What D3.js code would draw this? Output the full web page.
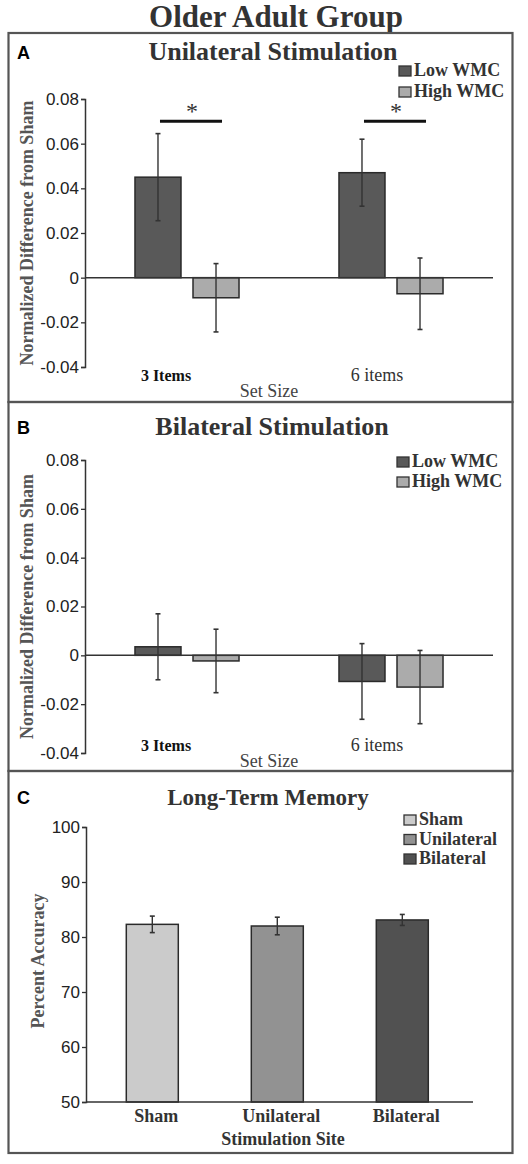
<!DOCTYPE html>
<html><head><meta charset="utf-8">
<script src="https://cdn.jsdelivr.net/npm/d3@7"></script>
<style>html,body{margin:0;padding:0;background:#fff;}svg{display:block;}</style>
</head><body>
<script>
// ---- data ----
const setSizes = ["3 Items", "6 items"];
const wmcGroups = ["Low WMC", "High WMC"];
const uniLow = [0.045, 0.047];
const uniLowErr = [0.0195, 0.015];
const uniHigh = [-0.009, -0.0072];
const uniHighErr = [0.0153, 0.016];
const bilLow = [0.0035, -0.0107];
const bilLowErr = [0.0135, 0.0155];
const bilHigh = [-0.0023, -0.013];
const bilHighErr = [0.013, 0.015];
const sites = ["Sham", "Unilateral", "Bilateral"];
const ltmAccuracy = [82.3, 82.0, 83.1];
const ltmErr = [1.5, 1.6, 1.0];
const diffTicks = [-0.04, -0.02, 0, 0.02, 0.04, 0.06, 0.08];
const diffTickLabels = ["-0.04", "-0.02", "0", "0.02", "0.04", "0.06", "0.08"];
const accTicks = [50, 60, 70, 80, 90, 100];
const sigMarks = ["*", "*"];

const W = 528, H = 1164;
const serif = "'Liberation Serif','Times New Roman',serif";
const sans = "'Liberation Sans',Arial,sans-serif";
const wmcColors = ["#595959", "#ababab"];
const siteColors = ["#cbcbcb", "#929292", "#515151"];

const svg = d3.select("body").append("svg").attr("width", W).attr("height", H);

svg.append("text").attr("x", 276).attr("y", 27).attr("text-anchor", "middle")
  .style("font-family", serif).style("font-weight", "bold").style("font-size", "31px")
  .attr("fill", "#333").text("Older Adult Group");

function panelFrame(y0, y1, letter, title, titleY, titleSize, titleX) {
  svg.append("rect").attr("x", 8.5).attr("y", y0).attr("width", 504).attr("height", y1 - y0)
    .attr("fill", "none").attr("stroke", "#555").attr("stroke-width", 2.2);
  svg.append("text").attr("x", 17).attr("y", titleY - 1).style("font-family", sans)
    .style("font-weight", "bold").style("font-size", "18px").attr("fill", "#000").text(letter);
  svg.append("text").attr("x", titleX).attr("y", titleY).attr("text-anchor", "middle")
    .style("font-family", serif).style("font-weight", "bold").style("font-size", titleSize + "px")
    .attr("fill", "#333").text(title);
}

function legend(items, colors, x, y0, dy, size) {
  items.forEach((t, i) => {
    svg.append("rect").attr("x", x).attr("y", y0 + i * dy - 10).attr("width", 12).attr("height", 10)
      .attr("fill", colors[i]).attr("stroke", "#333").attr("stroke-width", 1.3);
    svg.append("text").attr("x", x + 15).attr("y", y0 + i * dy)
      .style("font-family", serif).style("font-weight", "bold").style("font-size", size + "px")
      .attr("fill", "#333").text(t);
  });
}

function yLabel(text, cx, cy) {
  svg.append("text").attr("transform", `translate(${cx},${cy}) rotate(-90)`)
    .attr("text-anchor", "middle").style("font-family", serif).style("font-weight", "bold")
    .style("font-size", "18px").attr("fill", "#555").text(text);
}

function yAxis(scale, ticks, fmt, xPos, fontSize) {
  const g = svg.append("g").attr("transform", `translate(${xPos},0)`)
    .call(d3.axisLeft(scale).tickValues(ticks).tickFormat(fmt).tickSize(4).tickPadding(2));
  g.select(".domain").attr("stroke", "#333").attr("stroke-width", 1.5);
  g.selectAll(".tick line").attr("stroke", "#333").attr("stroke-width", 1.3);
  g.selectAll(".tick text").style("font-family", sans).style("font-size", fontSize + "px").attr("fill", "#222");
  return g;
}

function errBar(g, x, yTop, yBot) {
  g.append("line").attr("x1", x).attr("x2", x).attr("y1", yTop).attr("y2", yBot)
    .attr("stroke", "#333").attr("stroke-width", 1.4);
  [yTop, yBot].forEach(yy => g.append("line").attr("x1", x - 2.5).attr("x2", x + 2.5)
    .attr("y1", yy).attr("y2", yy).attr("stroke", "#333").attr("stroke-width", 1.6));
}

function groupedPanel(opt) {
  const y = d3.scaleLinear().domain([-0.04, 0.08]).range([opt.yBottom, opt.yTop]);
  const x0 = d3.scaleBand().domain(setSizes).range([85, 493]).paddingInner(0.49).paddingOuter(0.245);
  const x1 = d3.scaleBand().domain(wmcGroups).range([0, x0.bandwidth()]).paddingInner(0.207);
  const series = [opt.low, opt.high];
  const errs = [opt.lowErr, opt.highErr];
  const g = svg.append("g");
  setSizes.forEach((c, ci) => {
    wmcGroups.forEach((s, si) => {
      const v = series[si][ci];
      const bx = x0(c) + x1(s);
      g.append("rect").attr("x", bx).attr("width", x1.bandwidth())
        .attr("y", y(Math.max(0, v))).attr("height", Math.abs(y(v) - y(0)))
        .attr("fill", wmcColors[si]).attr("stroke", "#2a2a2a").attr("stroke-width", 1.5);
    });
  });
  // zero line
  g.append("line").attr("x1", 85).attr("x2", 493).attr("y1", y(0)).attr("y2", y(0))
    .attr("stroke", "#333").attr("stroke-width", 1.5);
  setSizes.forEach((c, ci) => {
    wmcGroups.forEach((s, si) => {
      const v = series[si][ci], e = errs[si][ci];
      const cx = x0(c) + x1(s) + x1.bandwidth() / 2;
      errBar(g, cx, y(v + e), y(v - e));
    });
  });
  yAxis(y, diffTicks, (d, i) => diffTickLabels[diffTicks.indexOf(d)], 85, 17);
  // category labels
  setSizes.forEach((c, ci) => {
    svg.append("text").attr("x", x0(c) + x0.bandwidth() / 2 - (ci === 0 ? 21 : 14)).attr("y", opt.catY)
      .attr("text-anchor", "middle").style("font-family", serif)
      .style("font-weight", ci === 0 ? "bold" : "normal").style("font-size", ci === 0 ? "16px" : "18px")
      .attr("fill", ci === 0 ? "#111" : "#333").text(c);
  });
  svg.append("text").attr("x", 269).attr("y", opt.catY + 16).attr("text-anchor", "middle")
    .style("font-family", serif).style("font-size", "18px").attr("fill", "#444").text("Set Size");
  if (opt.sig) {
    setSizes.forEach((c, ci) => {
      const xa = x0(c) + x1(wmcGroups[0]) + x1.bandwidth() / 2 + 2;
      const xb = x0(c) + x1(wmcGroups[1]) + x1.bandwidth() / 2 + 6;
      g.append("line").attr("x1", xa).attr("x2", xb).attr("y1", y(0.07)).attr("y2", y(0.07))
        .attr("stroke", "#111").attr("stroke-width", 3);
      g.append("text").attr("x", (xa + xb) / 2 + 1).attr("y", y(0.07) - 2).attr("text-anchor", "middle")
        .style("font-family", serif).style("font-size", "24px").attr("fill", "#333").text(sigMarks[ci]);
    });
  }
  yLabel("Normalized Difference from Sham", opt.labelX, (opt.yTop + opt.yBottom) / 2);
}

// Panel A
panelFrame(33, 402, "A", "Unilateral Stimulation", 60, 26, 273);
legend(wmcGroups, wmcColors, 399, 76, 21, 18);
groupedPanel({ yTop: 99, yBottom: 367, low: uniLow, lowErr: uniLowErr, high: uniHigh, highErr: uniHighErr,
  catY: 381, sig: true, labelX: 33 });

// Panel B
panelFrame(402, 771, "B", "Bilateral Stimulation", 435, 26, 272);
legend(wmcGroups, wmcColors, 397, 467, 20, 18);
groupedPanel({ yTop: 460, yBottom: 753, low: bilLow, lowErr: bilLowErr, high: bilHigh, highErr: bilHighErr,
  catY: 751, sig: false, labelX: 33 });

// Panel C
panelFrame(771, 1153, "C", "Long-Term Memory", 805, 23, 268);
legend(sites, siteColors, 404, 825, 19.5, 18);
(function () {
  const y = d3.scaleLinear().domain([50, 100]).range([1102, 827]);
  const x = d3.scaleBand().domain(sites).range([86, 468.6]).paddingInner(0.584).paddingOuter(0.3224);
  const g = svg.append("g");
  sites.forEach((s, i) => {
    g.append("rect").attr("x", x(s)).attr("width", x.bandwidth()).attr("y", y(ltmAccuracy[i]))
      .attr("height", y(50) - y(ltmAccuracy[i])).attr("fill", siteColors[i])
      .attr("stroke", "#2a2a2a").attr("stroke-width", 1.5);
    const cx = x(s) + x.bandwidth() / 2;
    errBar(g, cx, y(ltmAccuracy[i] + ltmErr[i]), y(ltmAccuracy[i] - ltmErr[i]));
    svg.append("text").attr("x", cx + 4).attr("y", 1122).attr("text-anchor", "middle")
      .style("font-family", serif).style("font-weight", "bold").style("font-size", "18px")
      .attr("fill", "#333").text(s);
  });
  g.append("line").attr("x1", 86).attr("x2", 473).attr("y1", y(50)).attr("y2", y(50))
    .attr("stroke", "#333").attr("stroke-width", 1.5);
  yAxis(y, accTicks, d3.format("d"), 86, 17);
  svg.append("text").attr("x", 283).attr("y", 1145).attr("text-anchor", "middle")
    .style("font-family", serif).style("font-weight", "bold").style("font-size", "18px")
    .attr("fill", "#333").text("Stimulation Site");
  yLabel("Percent Accuracy", 44, 961);
})();
</script>
</body></html>
